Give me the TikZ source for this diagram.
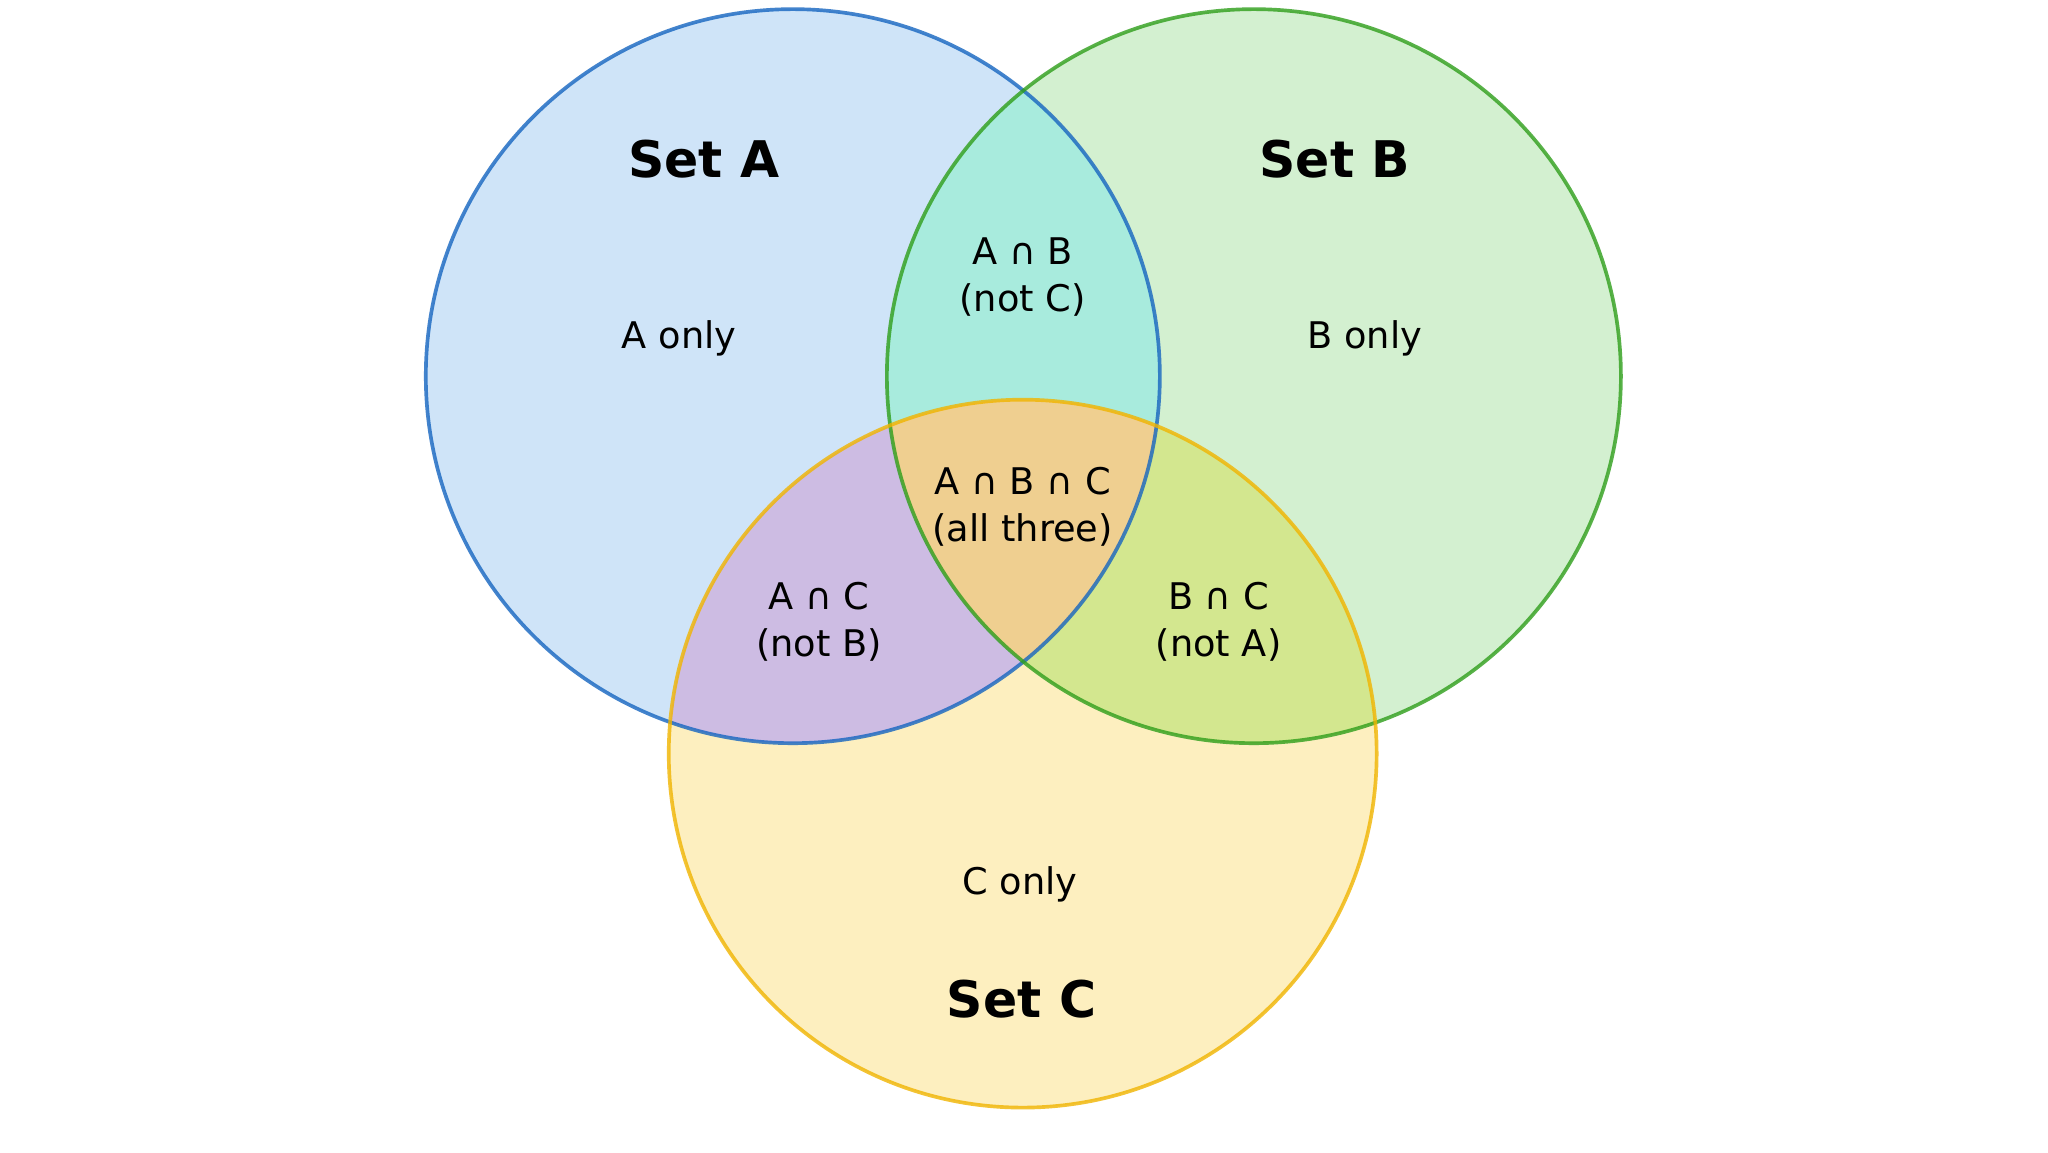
\documentclass[tikz,border=0pt]{standalone}
\usepackage{fontspec}
\setmainfont{DejaVu Sans}
\usetikzlibrary{positioning}
\definecolor{blueline}{HTML}{1565C0}
\definecolor{bluefill}{HTML}{CFE4F8}
\definecolor{greenline}{HTML}{2E9E1A}
\definecolor{greenfill}{HTML}{D3F0D0}
\definecolor{yellowline}{HTML}{F0B400}
\definecolor{yellowfill}{HTML}{FDEFBF}
\definecolor{abfill}{HTML}{A8EBDD}
\definecolor{acfill}{HTML}{CDBCE3}
\definecolor{bcfill}{HTML}{D3E78F}
\definecolor{abcfill}{HTML}{EFCF90}
\tikzstyle{setname}=[font=\fontsize{11}{13}\selectfont\bfseries]
\tikzstyle{region}=[font=\fontsize{8}{10.3}\selectfont, align=center]

\begin{document}
\begin{tikzpicture}
\useasboundingbox (0,0) rectangle (15.68,8.82);
\fill[white] (0,0) rectangle (15.68,8.82);
\coordinate (ca) at (6.07,5.94);
\coordinate (cb) at (9.60,5.94);
\coordinate (cc) at (7.83,3.05);

\fill[bluefill] (ca) circle [radius = 2.81cm];
\fill[greenfill] (cb) circle [radius = 2.81cm];
\fill[yellowfill] (cc) circle [radius = 2.71cm];
% overlap regions
\begin{scope}
\clip (ca) circle [radius = 2.81cm];
\fill[abfill] (cb) circle [radius = 2.81cm];
\fill[acfill] (cc) circle [radius = 2.71cm];
\end{scope}
\begin{scope}
\clip (cb) circle [radius = 2.81cm];
\fill[bcfill] (cc) circle [radius = 2.71cm];
\clip (ca) circle [radius = 2.81cm];
\fill[abcfill] (cc) circle [radius = 2.71cm];
\end{scope}
\draw[blueline, thick, draw opacity=0.8] (ca) circle [radius = 2.81cm];
\draw[greenline, thick, draw opacity=0.8] (cb) circle [radius = 2.81cm];
\draw[yellowline, thick, draw opacity=0.8] (cc) circle [radius = 2.71cm];

\node[setname] (seta) at (5.39,7.60) {Set A};
\node[setname] (setb) at (10.22,7.60) {Set B};
\node[setname] (setc) at (7.82,1.17) {Set C};

\node[region] (aonly) at (5.20,6.23) {A only};
\node[region] (bonly) at (10.45,6.23) {B only};
\node[region] (conly) at (7.81,2.05) {C only};
\node[region] (ab) at (7.83,6.70) {A ∩ B\\(not C)};
\node[region] (abc) at (7.83,4.94) {A ∩ B ∩ C\\(all three)};
\node[region] (ac) at (6.27,4.06) {A ∩ C\\(not B)};
\node[region] (bc) at (9.33,4.06) {B ∩ C\\(not A)};
\end{tikzpicture}
\end{document}
